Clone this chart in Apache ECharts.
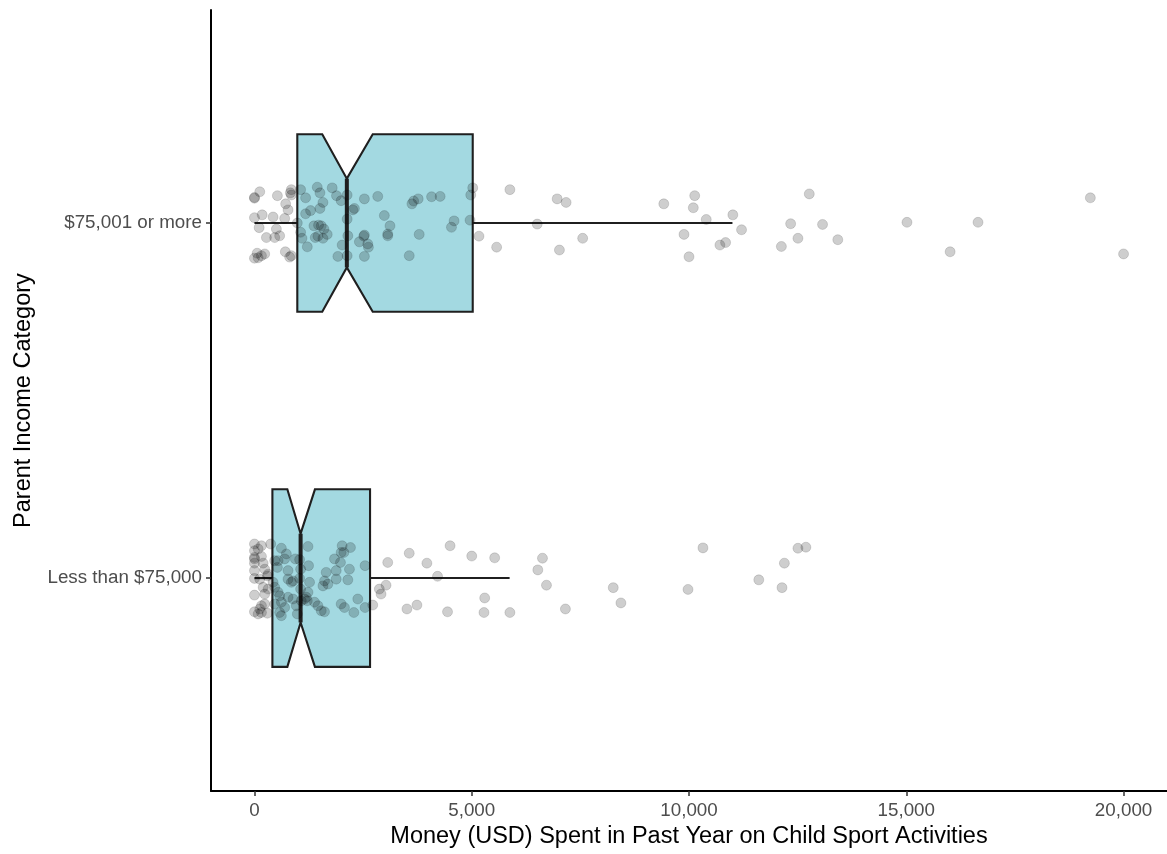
<!DOCTYPE html>
<html>
<head>
<meta charset="utf-8">
<script src="https://cdn.jsdelivr.net/npm/echarts@6/dist/echarts.min.js"></script>
<style>
html,body{margin:0;padding:0;background:#fff;}
#chart{width:1167px;height:854px;}
</style>
</head>
<body>
<div id="chart"></div>
<script>
// Categories (bottom to top)
const categories = ["Less than $75,000", "$75,001 or more"];

// Box statistics: [categoryPosition, whiskerLow, Q1, notchLow, median, notchHigh, Q3, whiskerHigh]
const boxLow  = [1, 0, 413, 757, 1062, 1392, 2660, 5872];
const boxHigh = [2, 0, 986, 1560, 2126, 2722, 5023, 11000];

// X tick values
const xTicks = [0, 5000, 10000, 15000, 20000];

// Jittered observations: [USD spent, jittered category position]
const pointsLow = [
[0,1.096],[161,1.091],[85,1.082],[0,1.077],[374,1.096],[0,1.058],[0,1.054],[161,1.061],[200,1.042],[0,1.042],
[0,1.021],[236,1.025],[314,1.011],[0,0.999],[122,0.997],[298,1.006],[200,0.974],[314,0.969],[0,0.952],[236,0.955],
[236,0.927],[161,0.922],[122,0.913],[0,0.905],[85,0.899],[161,0.903],[298,0.901],[429,0.988],[466,0.974],[544,0.960],
[619,1.084],[734,1.068],[695,1.054],[544,1.049],[466,1.049],[528,1.030],[773,1.021],[773,0.997],[849,0.988],[580,0.950],
[619,0.932],[466,0.927],[695,0.917],[580,0.903],[619,0.894],[773,0.946],[888,0.941],[963,0.922],[986,0.899],[1039,1.052],
[1062,1.025],[1039,0.999],[1062,0.969],[1078,0.936],[1232,1.089],[1245,1.035],[1268,0.988],[1232,0.960],[1216,0.936],[1154,0.941],
[1193,0.946],[940,1.054],[888,0.992],[1612,0.992],[1576,0.978],[1690,0.983],[1651,1.016],[1537,0.908],[1612,0.905],[1383,0.932],
[1461,0.922],[1881,1.021],[1881,0.997],[1842,1.054],[1979,1.044],[2018,1.091],[1995,1.072],[2057,1.072],[2209,1.086],[2149,0.995],
[2186,1.025],[1995,0.927],[2071,0.917],[2287,0.903],[2378,0.941],[2546,0.917],[2546,1.035],[2722,0.924],[2874,0.969],[2913,0.955],
[3028,0.980],[3067,1.044],[3562,1.070],[3968,1.042],[3509,0.913],[3739,0.924],[4502,1.091],[4213,1.005],[4443,0.905],[5000,1.062],
[5528,1.057],[5298,0.944],[5282,0.903],[5878,0.903],[6628,1.056],[6521,1.023],[6720,0.980],[7156,0.913],[8257,0.973],[8433,0.930],
[10321,1.085],[9977,0.968],[11606,0.995],[12195,1.042],[12140,0.973],[12507,1.084],[12690,1.087]
];
const pointsHigh = [
[122,2.088],[0,2.070],[0,2.072],[528,2.077],[849,2.094],[826,2.085],[849,2.079],[1062,2.094],[1177,2.071],[718,2.054],
[773,2.037],[0,2.015],[177,2.023],[429,2.017],[695,2.013],[108,1.987],[505,1.983],[580,1.964],[275,1.959],[466,1.959],
[62,1.915],[161,1.908],[85,1.902],[0,1.901],[236,1.913],[711,1.919],[849,1.908],[810,1.904],[986,2.000],[1062,1.974],
[1094,1.957],[1216,1.933],[1177,2.026],[1291,2.035],[1507,2.041],[1445,2.101],[1507,2.085],[1576,2.058],[1369,1.992],[1475,1.994],
[1537,1.992],[1599,1.983],[1399,1.959],[1461,1.963],[1674,1.968],[1576,1.957],[1789,2.099],[1888,2.077],[1995,2.063],[2133,2.079],
[2133,2.011],[2149,1.964],[2018,1.938],[1920,1.906],[2133,1.908],[2300,2.041],[2264,2.037],[2530,2.068],[2837,2.075],[2530,1.966],
[2516,1.963],[2415,1.947],[2608,1.941],[2622,1.932],[2530,1.906],[2989,2.021],[3119,1.992],[3067,1.969],[3067,1.964],[3562,1.908],
[3624,2.054],[3663,2.062],[3768,2.068],[3791,1.968],[4076,2.074],[4273,2.075],[4594,2.006],[4534,1.988],[5023,2.099],[4977,2.079],
[4961,2.008],[5167,1.963],[5573,1.932],[5878,2.094],[6507,1.997],[6966,2.068],[7172,2.058],[7018,1.924],[7553,1.957],[9420,2.054],
[10131,2.077],[10099,2.043],[10397,2.010],[9885,1.968],[10000,1.905],[11009,2.023],[11209,1.981],[10711,1.938],[10842,1.945],[12126,1.934],
[12339,1.998],[12507,1.957],[12768,2.082],[13073,1.996],[13424,1.953],[15016,2.002],[16651,2.002],[16009,1.919],[19236,2.071],[20000,1.913]
];

const BOX_HALF = 0.25, NOTCH_HALF = 0.125;
const BOX_FILL = '#A3D9E1', LINE = '#1f1f1f';

function renderBox(params, api) {
  const c = api.value(0);
  const wl = api.value(1), q1 = api.value(2), nl = api.value(3), md = api.value(4),
        nh = api.value(5), q3 = api.value(6), wh = api.value(7);
  const P = (x, y) => api.coord([x, y]);
  const poly = [
    P(q1, c + BOX_HALF), P(nl, c + BOX_HALF), P(md, c + NOTCH_HALF), P(nh, c + BOX_HALF), P(q3, c + BOX_HALF),
    P(q3, c - BOX_HALF), P(nh, c - BOX_HALF), P(md, c - NOTCH_HALF), P(nl, c - BOX_HALF), P(q1, c - BOX_HALF)
  ];
  const a = P(wl, c), b = P(q1, c), d = P(q3, c), e = P(wh, c);
  const m1 = P(md, c + NOTCH_HALF), m2 = P(md, c - NOTCH_HALF);
  return {
    type: 'group',
    children: [
      { type: 'line', shape: { x1: a[0], y1: a[1], x2: b[0], y2: b[1] }, style: { stroke: LINE, lineWidth: 2.1 } },
      { type: 'line', shape: { x1: d[0], y1: d[1], x2: e[0], y2: e[1] }, style: { stroke: LINE, lineWidth: 2.1 } },
      { type: 'polygon', shape: { points: poly }, style: { fill: BOX_FILL, stroke: LINE, lineWidth: 2.1, lineJoin: 'miter' } },
      { type: 'line', shape: { x1: m1[0], y1: m1[1], x2: m2[0], y2: m2[1] }, style: { stroke: LINE, lineWidth: 4 } }
    ]
  };
}

const chart = echarts.init(document.getElementById('chart'), null, { renderer: 'canvas' });
const textFont = 'Liberation Sans, Arial, Helvetica, sans-serif';
const pointStyle = { color: 'rgba(0,0,0,0.24)', borderColor: 'rgba(0,0,0,0.16)', borderWidth: 1 };
chart.setOption({
  animation: false,
  backgroundColor: '#ffffff',
  textStyle: { fontFamily: textFont },
  grid: { left: 211, right: 0, top: 10, bottom: 59, containLabel: false },
  xAxis: {
    type: 'value', min: -1000, max: 21000,
    name: 'Money (USD) Spent in Past Year on Child Sport Activities',
    nameLocation: 'middle', nameGap: 33,
    nameTextStyle: { fontSize: 23.5, color: '#000', fontFamily: textFont },
    axisLine: { show: true, onZero: false, lineStyle: { color: '#000', width: 2 } },
    axisTick: { show: true, length: 5, customValues: xTicks, lineStyle: { color: '#333', width: 1.5 } },
    axisLabel: { customValues: xTicks, margin: 10, fontSize: 18.8, color: '#4d4d4d', fontFamily: textFont,
      formatter: v => Number(v).toLocaleString('en-US') },
    splitLine: { show: false }
  },
  yAxis: {
    type: 'value', min: 0.4, max: 2.6,
    name: 'Parent Income Category',
    nameLocation: 'middle', nameGap: 175, nameRotate: 90,
    nameTextStyle: { fontSize: 23.5, color: '#000', fontFamily: textFont },
    axisLine: { show: true, onZero: false, lineStyle: { color: '#000', width: 2 } },
    axisTick: { show: true, length: 5, customValues: [1, 2], lineStyle: { color: '#333', width: 1.5 } },
    axisLabel: { customValues: [1, 2], margin: 9, fontSize: 18.8, color: '#4d4d4d', fontFamily: textFont,
      formatter: v => categories[Math.round(v) - 1] },
    splitLine: { show: false }
  },
  series: [
    {
      type: 'custom', renderItem: renderBox, z: 1,
      encode: { x: [1, 2, 3, 4, 5, 6, 7], y: 0 },
      data: [boxLow, boxHigh]
    },
    { type: 'scatter', z: 5, symbol: 'circle', symbolSize: 10, itemStyle: pointStyle, data: pointsLow },
    { type: 'scatter', z: 5, symbol: 'circle', symbolSize: 10, itemStyle: pointStyle, data: pointsHigh }
  ]
});
</script>
</body>
</html>
